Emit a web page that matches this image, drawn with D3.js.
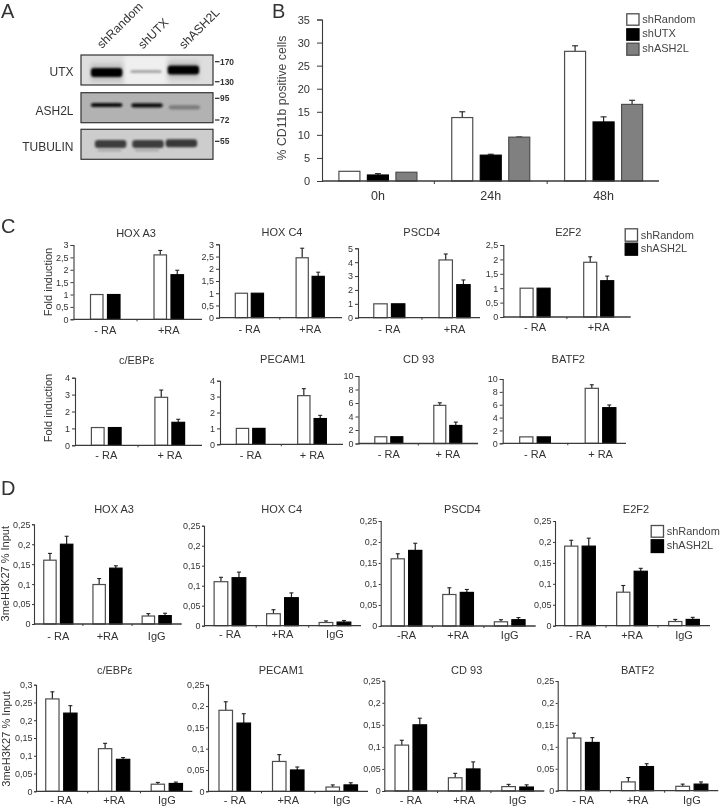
<!DOCTYPE html>
<html><head><meta charset="utf-8">
<script src="https://cdn.jsdelivr.net/npm/d3@7"></script>
<style>
html,body{margin:0;padding:0;background:#fff}
svg{display:block;filter:blur(0.35px)}
text{font-family:"Liberation Sans",Arial,sans-serif;fill:#333}
</style></head><body>
<div id="chart"></div>
<script>
// ---------- DATA ----------
const seriesB = ["shRandom","shUTX","shASH2L"];
const groupsB = ["0h","24h","48h"];
const ticksB = [0,5,10,15,20,25,30,35];
const randomB = [2.1,13.75,28.1];
const utxB = [1.3,5.6,12.8];
const ash2lB = [1.9,9.5,16.6];
const randomBTop = [2.1,15,29.3];
const utxBTop = [1.6,5.8,13.9];
const ash2lBTop = [1.9,9.55,17.5];

const seriesCD = ["shRandom","shASH2L"];
const titlesC = ["HOX A3","HOX C4","PSCD4","E2F2","c/EBPε","PECAM1","CD 93","BATF2"];
const groupsC = [["- RA","+RA"],["- RA","+RA"],["- RA","+RA"],["- RA","+RA"],["- RA","+ RA"],["- RA","+ RA"],["- RA","+ RA"],["- RA","+ RA"]];
const ticksC = [
  [0,0.5,1,1.5,2,2.5,3],[0,0.5,1,1.5,2,2.5,3],[0,1,2,3,4,5],[0,0.5,1,1.5,2,2.5],
  [0,1,2,3,4],[0,1,2,3,4],[0,2,4,6,8,10],[0,2,4,6,8,10]];
const randomC = [[1,2.6],[1,2.45],[1,4.16],[1,1.9],[1.05,2.84],[1,3.06],[1,5.65],[1,8.55]];
const ash2lC  = [[1,1.8],[1,1.69],[1,2.38],[1,1.26],[1.05,1.36],[1,1.62],[1,2.67],[1,5.54]];
const randomCTop = [[1,2.78],[1,2.84],[1,4.59],[1,2.09],[1.05,3.27],[1,3.5],[1,6.03],[1,9.1]];
const ash2lCTop  = [[1,1.98],[1,1.86],[1,2.72],[1,1.42],[1.05,1.54],[1,1.82],[1,3.17],[1,5.96]];

const titlesD = ["HOX A3","HOX C4","PSCD4","E2F2","c/EBPε","PECAM1","CD 93","BATF2"];
const groupsD = [["- RA","+RA","IgG"],["- RA","+RA","IgG"],["-RA","+RA","IgG"],["- RA","+RA","IgG"],
                 ["- RA","+RA","IgG"],["- RA","+RA","IgG"],["- RA","+RA","IgG"],["- RA","+RA","IgG"]];
const ticks025 = [0,0.05,0.1,0.15,0.2,0.25];
const ticks030 = [0,0.05,0.1,0.15,0.2,0.25,0.3];
const ticksD = [ticks025,ticks025,ticks025,ticks025,ticks030,ticks025,ticks025,ticks025];
const randomD = [[.16,.099,.02],[.11,.03,.008],[.16,.075,.01],[.19,.08,.01],[.26,.12,.02],[.19,.07,.01],[.104,.03,.01],[.12,.02,.01]];
const ash2lD  = [[.2,.14,.021],[.12,.07,.009],[.18,.08,.015],[.19,.13,.015],[.22,.09,.022],[.16,.05,.015],[.15,.05,.009],[.11,.055,.015]];
const randomDTop = [[.177,.114,.026],[.121,.04,.012],[.172,.091,.015],[.204,.096,.015],[.28,.135,.025],[.21,.086,.015],[.115,.04,.015],[.131,.03,.015]];
const ash2lDTop  = [[.22,.146,.027],[.134,.082,.013],[.197,.087,.02],[.209,.137,.02],[.241,.095,.026],[.182,.057,.02],[.165,.066,.014],[.121,.0615,.02]];

// Western blot: relative band density per row and lane
const blotRows = ["UTX","ASH2L","TUBULIN"];
const blotLanes = ["shRandom","shUTX","shASH2L"];
const densityUTX = [1,0.2,1];
const densityASH2L = [0.95,0.95,0.42];
const densityTUBULIN = [0.72,0.72,0.75];
const markers = [["170","UTX",0],["130","UTX",1],["95","ASH2L",0],["72","ASH2L",1],["55","TUBULIN",0]];

// ---------- LAYOUT ----------
const layoutC = [
 {x0:73.5,x1:200.5,y0:319.3,yT:245,end:202,tx:136,ty:236.5,ldy:14.7,bw:13.5,st:17,ax:73.5},
 {x0:219,x1:340.6,y0:317.7,yT:244.3,end:342,tx:282,ty:236,ldy:15,bw:13.2,st:16,ax:219},
 {x0:356.7,x1:487.2,y0:317.7,yT:248.3,end:480,tx:421.7,ty:236,ldy:15.3,bw:14.4,st:17.7,ax:358},
 {x0:503.3,x1:630.5,y0:317,yT:245,end:630.7,tx:568.3,ty:236,ldy:14,bw:14,st:17,ax:503.3},
 {x0:74.5,x1:201.5,y0:445.3,yT:377.7,end:202,tx:136.7,ty:364,ldy:14,bw:13.7,st:17,ax:75},
 {x0:220,x1:342.7,y0:444.3,yT:380.7,end:343,tx:282.7,ty:363,ldy:14.5,bw:13.3,st:16.4,ax:220},
 {x0:359.3,x1:477.3,y0:443.5,yT:376,end:478,tx:418.7,ty:363,ldy:14.5,bw:13,st:16,ax:358.5},
 {x0:502.3,x1:633.3,y0:443.3,yT:379,end:626,tx:568.3,ty:363,ldy:14.7,bw:14.2,st:17.5,ax:502.7}
];
const layoutD = [
 {x0:33.7,x1:181.3,y0:624,yT:524.3,end:181.7,tx:114,ty:513,ldy:15.7,bw:13.4,st:16.7,ax:34},
 {x0:203.7,x1:361.2,y0:625.7,yT:525.7,end:361,tx:281.7,ty:513,ldy:12.7,bw:14.7,st:18,ax:204},
 {x0:380.7,x1:535.5,y0:626,yT:521,end:535.7,tx:462.3,ty:513,ldy:13.3,bw:14.2,st:17.5,ax:380.7},
 {x0:554,x1:710,y0:625.7,yT:521,end:710,tx:636,ty:513,ldy:13.5,bw:14.2,st:17.5,ax:555},
 {x0:35,x1:193.2,y0:791.3,yT:684.7,end:192.3,tx:114.7,ty:674,ldy:13,bw:14.3,st:18,ax:36},
 {x0:208,x1:368.5,y0:791.3,yT:684.7,end:368,tx:281.3,ty:674,ldy:13,bw:14.5,st:18,ax:208},
 {x0:384.1,x1:544.3,y0:791,yT:680.7,end:544.3,tx:466.7,ty:674,ldy:13,bw:14.6,st:18,ax:384.3},
 {x0:556,x1:719,y0:790.7,yT:681,end:718.3,tx:637.7,ty:674,ldy:13.3,bw:14.7,st:18.3,ax:557.7}
];

const svg = d3.select("#chart").append("svg").attr("width",720).attr("height",807);
const comma = d => String(d).replace(".",",").replace(/^,/,"0,");
const AX = "#3a3a3a", OUT = "#4d4d4d";

function t(x,y,s,size,anchor,opts){
  const el = svg.append("text").attr("x",x).attr("y",y).attr("font-size",size).attr("text-anchor",anchor||"start").text(s);
  if(opts&&opts.rotate!==undefined) el.attr("transform",`rotate(${opts.rotate} ${x} ${y})`);
  if(opts&&opts.weight) el.attr("font-weight",opts.weight);
  if(opts&&opts.fill) el.style("fill",opts.fill);
  return el;
}

function barChart(cfg){
  const {L,groups,series,values,tops,ticks,tickFont,labelFont,tickSize,tickPad,colors,cap,bTick}=cfg;
  const g = svg.append("g");
  const xG = d3.scaleBand().domain(groups).range([L.x0,L.x1]);
  const half = L.st*series.length/2;
  const p = 1 - L.bw/L.st;
  const xS = d3.scaleBand().domain(series).range([-half,half]).paddingInner(p).paddingOuter(p/2);
  const y = d3.scaleLinear().domain([0,d3.max(ticks)]).range([L.y0,L.yT]);

  series.forEach((s,si)=>{
    const sel = g.append("g");
    groups.forEach((gr,gi)=>{
      const cx = xG(gr)+xG.bandwidth()/2;
      const bx = cx + xS(s);
      const v = values[si][gi], top = tops[si][gi];
      if(top>v){
        const mx = bx+xS.bandwidth()/2;
        sel.append("line").attr("x1",mx).attr("x2",mx).attr("y1",y(v)).attr("y2",y(top)).attr("stroke","#222").attr("stroke-width",1.2);
        sel.append("line").attr("x1",mx-cap).attr("x2",mx+cap).attr("y1",y(top)).attr("y2",y(top)).attr("stroke","#222").attr("stroke-width",1.1);
      }
      sel.append("rect").attr("x",bx+.5).attr("y",y(v)).attr("width",xS.bandwidth()-1).attr("height",L.y0-y(v))
        .attr("fill",colors[si]).attr("stroke",colors[si]==="#000"?"#000":OUT).attr("stroke-width",1.2);
    });
  });

  const ya = g.append("g").attr("transform",`translate(${L.ax},0)`)
    .call(d3.axisLeft(y).tickValues(ticks).tickFormat(comma).tickSize(tickSize).tickPadding(tickPad));
  ya.selectAll("path").attr("stroke",AX).attr("stroke-width",1.1);
  ya.selectAll("line").attr("stroke",AX);
  ya.selectAll("text").attr("font-size",tickFont).style("fill","#333")
    .attr("font-family",'"Liberation Sans",Arial,sans-serif');

  const xa = g.append("g").attr("transform",`translate(0,${L.y0})`)
    .call(d3.axisBottom(xG).tickSize(0).tickPadding(L.ldy-labelFont*0.72));
  xa.select("path").remove();
  xa.selectAll("text").attr("font-size",labelFont).attr("dy","0.72em").style("fill","#333")
    .attr("font-family",'"Liberation Sans",Arial,sans-serif');
  g.append("line").attr("x1",L.ax).attr("x2",L.end).attr("y1",L.y0).attr("y2",L.y0).attr("stroke",AX).attr("stroke-width",1.3);
  groups.slice(1).forEach(gr=>{
    g.append("line").attr("x1",xG(gr)).attr("x2",xG(gr)).attr("y1",L.y0).attr("y2",L.y0+bTick).attr("stroke",AX);
  });
  if(cfg.title) t(L.tx,L.ty,cfg.title,11,"middle");
}

function legend(items,colors,x,x1,tx,ys,bases,font){
  items.forEach((s,i)=>{
    svg.append("rect").attr("x",x+.5).attr("y",ys[i][0]+.5).attr("width",x1-x-1).attr("height",ys[i][1]-ys[i][0]-1)
      .attr("fill",colors[i]).attr("stroke",colors[i]==="#000"?"#000":OUT).attr("stroke-width",1.3);
    t(tx,bases[i],s,font,"start",{fill:"#444"});
  });
}

// ---------- PANEL A ----------
const defs = svg.append("defs");
defs.append("filter").attr("id","b1").attr("x","-30%").attr("y","-60%").attr("width","160%").attr("height","220%").append("feGaussianBlur").attr("stdDeviation",2.2);
defs.append("filter").attr("id","b2").attr("x","-20%").attr("y","-80%").attr("width","140%").attr("height","260%").append("feGaussianBlur").attr("stdDeviation",0.9);
const boxTop = {UTX:55,ASH2L:92.7,TUBULIN:129.3};
const boxBg = {UTX:"#dedede",ASH2L:"#b2b2b2",TUBULIN:"#cdcdcd"};
const bandStyle = {UTX:{dy:[17.5,16.5,15],h:9},ASH2L:{dy:[12.3,12.6,14.6],h:4.2},TUBULIN:{dy:[14.7,14.7,14],h:8}};
const laneShift = {UTX:[0,0,-2],ASH2L:[0,1,-1],TUBULIN:[4,2,-4]};
const laneX = d3.scaleBand().domain(blotLanes).range([83,209]).padding(0.2);
const darkness = d3.scaleLinear().domain([0,1]).range(["#d0d0d0","#050505"]);
const density = {UTX:densityUTX,ASH2L:densityASH2L,TUBULIN:densityTUBULIN};
const gA = svg.append("g");
blotRows.forEach(r=>{
  const top = boxTop[r];
  const clip = "cp"+r;
  defs.append("clipPath").attr("id",clip).append("rect").attr("x",81).attr("y",top).attr("width",132).attr("height",30);
  const row = gA.append("g").attr("clip-path",`url(#${clip})`);
  row.append("rect").attr("x",81).attr("y",top).attr("width",132).attr("height",30).attr("fill",boxBg[r]);
  if(r==="UTX"){ // paler middle lane
    row.append("rect").attr("x",laneX("shUTX")-6).attr("y",top).attr("width",laneX.bandwidth()+12).attr("height",30)
      .attr("fill","#efefef").attr("filter","url(#b1)");
  }
  blotLanes.forEach((l,i)=>{
    const d = density[r][i];
    const st = bandStyle[r];
    if(r==="UTX"&&d>.5){ // soft smear around strong bands
      row.append("rect").attr("x",laneX(l)+laneShift[r][i]).attr("y",top+st.dy[i]-9).attr("width",laneX.bandwidth()).attr("height",18)
        .attr("fill","#a8a8a8").attr("opacity",.55).attr("filter","url(#b1)");
    }
    row.append("rect").attr("x",laneX(l)+laneShift[r][i]).attr("y",top+st.dy[i]-(d<.5&&r==="UTX"?1.5:st.h/2))
      .attr("width",laneX.bandwidth()).attr("height",(r==="UTX"&&d<.5)?3:st.h)
      .attr("rx",3).attr("fill",darkness(d)).attr("filter","url(#b2)");
    if(r==="TUBULIN"&&i<2){
      row.append("rect").attr("x",laneX(l)+laneShift[r][i]+3).attr("y",top+20).attr("width",laneX.bandwidth()-8).attr("height",2)
        .attr("fill","#8f8f8f").attr("opacity",.7).attr("filter","url(#b2)");
    }
  });
  gA.append("rect").attr("x",81).attr("y",top).attr("width",132).attr("height",30).attr("fill","none").attr("stroke","#333").attr("stroke-width",1.2);
});
[["shRandom",102,49],["shUTX",143,49.5],["shASH2L",184,49.5]].forEach(d=>t(d[1],d[2],d[0],12.2,"start",{rotate:-45}));
[["UTX",76],["ASH2L",115],["TUBULIN",150.7]].forEach(d=>t(73.5,d[1],d[0],12,"end"));
const mwY = {"170":61.7,"130":81.7,"95":98.3,"72":120,"55":141.3};
markers.forEach(m=>{
  const yy = mwY[m[0]];
  svg.append("line").attr("x1",215).attr("x2",219.5).attr("y1",yy).attr("y2",yy).attr("stroke","#222").attr("stroke-width",1.2);
  t(220,yy+3,m[0],8.4,"start",{weight:"bold"});
});

// panel letters
t(1,18.2,"A",20);
t(272,18.2,"B",20);
t(1,233,"C",20);
t(1,495,"D",20);

// ---------- PANEL B ----------
barChart({
  L:{x0:321.5,x1:660,y0:181,yT:19.5,end:659,bw:22,st:28.5,ax:322,ldy:19},
  groups:groupsB,series:seriesB,values:[randomB,utxB,ash2lB],tops:[randomBTop,utxBTop,ash2lBTop],
  ticks:ticksB,tickFont:11,labelFont:12.5,tickSize:5,tickPad:7,colors:["#fff","#000","#808080"],cap:3,bTick:3
});
t(285.5,98,"% CD11b positive cells",12.3,"middle",{rotate:-90,fill:"#444"});
legend(seriesB,["#fff","#000","#808080"],626.3,639.5,642.3,[[13.3,25.7],[28.3,40.7],[42.7,55.7]],[23.3,37.3,52.3],11);

// ---------- PANEL C ----------
titlesC.forEach((title,i)=>barChart({
  L:layoutC[i],groups:groupsC[i],series:seriesCD,values:[randomC[i],ash2lC[i]],tops:[randomCTop[i],ash2lCTop[i]],
  ticks:ticksC[i],tickFont:9,labelFont:11,tickSize:3,tickPad:2,colors:["#fff","#000"],cap:2,title,bTick:2
}));
t(52,282,"Fold induction",11,"middle",{rotate:-90});
t(52,408,"Fold induction",11,"middle",{rotate:-90});
legend(seriesCD,["#fff","#000"],624.7,638,640.7,[[228.3,241.7],[242.7,255.7]],[238.7,252.3],11);

// ---------- PANEL D ----------
titlesD.forEach((title,i)=>barChart({
  L:layoutD[i],groups:groupsD[i],series:seriesCD,values:[randomD[i],ash2lD[i]],tops:[randomDTop[i],ash2lDTop[i]],
  ticks:ticksD[i],tickFont:9,labelFont:11,tickSize:2,tickPad:1.5,colors:["#fff","#000"],cap:2,title,bTick:2
}));
t(9.5,573.7,"3meH3K27 % Input",11,"middle",{rotate:-90});
t(9.5,739,"3meH3K27 % Input",11,"middle",{rotate:-90});
legend(seriesCD,["#fff","#000"],650.7,664,666.7,[[525,537.7],[539.3,553]],[535,549],11);
</script>
</body></html>
